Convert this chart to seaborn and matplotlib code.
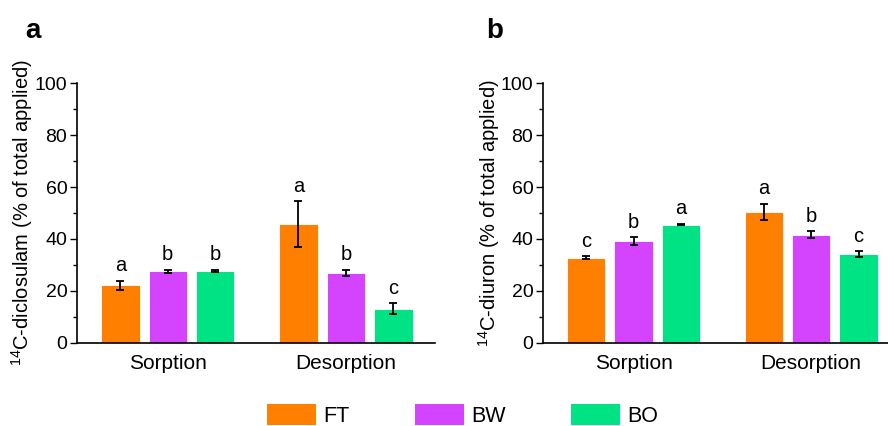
import matplotlib
matplotlib.use("Agg")
import matplotlib.pyplot as plt
import pandas as pd
import seaborn as sns
from matplotlib.patches import Patch
from matplotlib.ticker import MultipleLocator

# data (mean, error) for each panel
phases = ["Sorption", "Desorption"]
soils = ["FT", "BW", "BO"]
colors = ["#FF8000", "#D444FF", "#00E384"]

diclosulam_mean = [22.2, 27.5, 27.8, 45.8, 27.0, 13.2]
diclosulam_err = [1.8, 0.7, 0.4, 8.7, 1.1, 2.1]
diclosulam_letters = ["a", "b", "b", "a", "b", "c"]

diuron_mean = [32.8, 39.2, 45.5, 50.5, 41.7, 34.1]
diuron_err = [0.5, 1.4, 0.3, 3.1, 1.3, 1.2]
diuron_letters = ["c", "b", "a", "a", "b", "c"]

sns.set_style("ticks")
plt.rcParams["font.family"] = ["Liberation Sans", "DejaVu Sans"]
plt.rcParams["mathtext.default"] = "regular"
for key in ["text.color", "axes.labelcolor", "xtick.color", "ytick.color"]:
    plt.rcParams[key] = "black"


def make_frame(means, errs, letters):
    rows = []
    i = 0
    for phase in phases:
        for soil in soils:
            rows.append({"Phase": phase, "Soil": soil, "Value": means[i],
                         "Err": errs[i], "Letter": letters[i]})
            i += 1
    return pd.DataFrame(rows)


def draw_panel(ax, data, ylabel, tag, xmax, tag_x):
    sns.barplot(data=data, x="Phase", y="Value", hue="Soil", hue_order=soils,
                palette=colors, saturation=1, errorbar=None, gap=0.19, width=0.8,
                edgecolor="white", linewidth=0.6, legend=False, ax=ax)
    # bars are in hue order: all FT, then BW, then BO
    for k, bar in enumerate(ax.patches[:len(data)]):
        h = k // len(phases)
        p = k % len(phases)
        row = data[(data.Phase == phases[p]) & (data.Soil == soils[h])].iloc[0]
        x = bar.get_x() + bar.get_width() / 2
        ax.errorbar(x, row.Value, yerr=row.Err, color="black", capsize=3,
                    elinewidth=1.3, capthick=1.3, zorder=5)
        ax.annotate(row.Letter, (x, row.Value + row.Err), xytext=(0, 4),
                    textcoords="offset points", ha="center", va="bottom",
                    fontsize=14.5)
    ax.set_ylim(0, 100)
    ax.set_xlim(-0.51, xmax)
    ax.yaxis.set_major_locator(MultipleLocator(20))
    ax.yaxis.set_minor_locator(MultipleLocator(10))
    ax.tick_params(axis="y", which="major", length=5, width=1, labelsize=14, pad=2)
    ax.tick_params(axis="y", which="minor", length=3, width=1)
    ax.tick_params(axis="x", length=0, labelsize=15, pad=8)
    ax.set_xlabel("")
    ax.set_ylabel(ylabel, fontsize=14.5)
    for s in ["top", "right"]:
        ax.spines[s].set_visible(False)
    for s in ["left", "bottom"]:
        ax.spines[s].set_color("black")
        ax.spines[s].set_linewidth(1.2)
    ax.text(tag_x, 1.2, tag, transform=ax.transAxes,
            fontsize=20, fontweight="bold", ha="center", va="center")


fig = plt.figure(figsize=(8.88, 4.26), dpi=100)
ax_a = fig.add_axes([0.0867, 0.195, 0.403, 0.61])
ax_b = fig.add_axes([0.6115, 0.195, 0.39, 0.61])

draw_panel(ax_a, make_frame(diclosulam_mean, diclosulam_err, diclosulam_letters),
           r"$^{14}$C-diclosulam (% of total applied)", "a", 1.5, -0.123)
draw_panel(ax_b, make_frame(diuron_mean, diuron_err, diuron_letters),
           r"$^{14}$C-diuron (% of total applied)", "b", 1.44, -0.139)
ax_a.yaxis.set_label_coords(-0.117, 0.5)
ax_b.yaxis.set_label_coords(-0.119, 0.5)

handles = [Patch(facecolor=c, edgecolor="none") for c in colors]
fig.legend(handles, soils, loc="center", bbox_to_anchor=(0.521, 0.025), ncol=3,
           frameon=False, fontsize=15.5, handlelength=2.3, handleheight=1.1,
           handletextpad=0.35, columnspacing=3.0)

fig.savefig("out.png", dpi=100)
